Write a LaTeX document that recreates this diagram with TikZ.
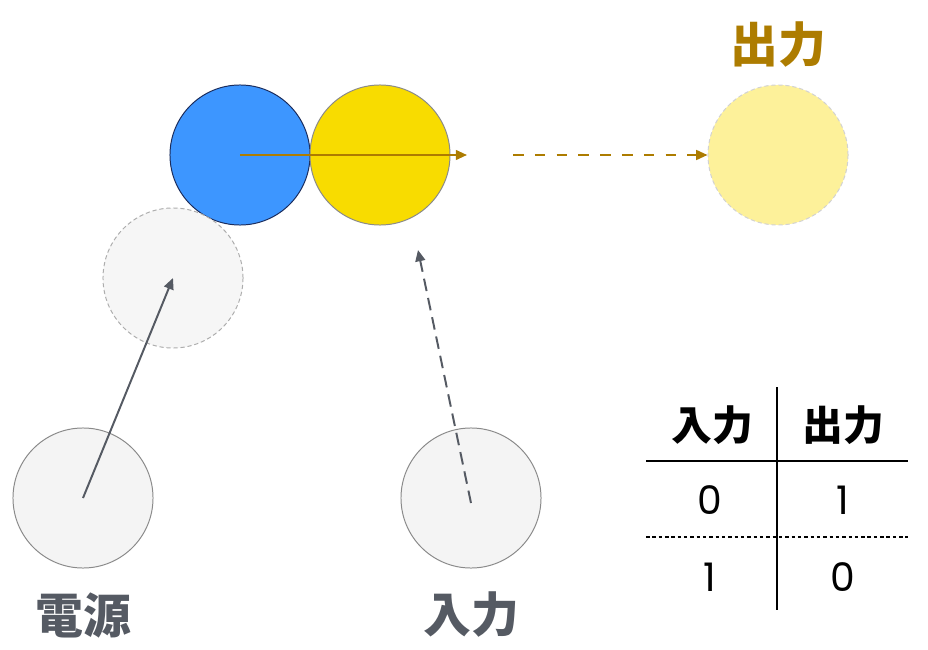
\documentclass[tikz,border=0pt]{standalone}
\usepackage{fontspec}
\newfontfamily\jp{Noto Sans CJK JP}
\newfontfamily\num{Poppins}
\usetikzlibrary{arrows.meta,positioning}
\definecolor{gateblue}{HTML}{3D96FF}
\definecolor{gatenavy}{HTML}{1B2C5C}
\definecolor{gateyellow}{HTML}{F8DC00}
\definecolor{gategold}{HTML}{AD7C00}
\definecolor{outyellow}{HTML}{FDF19A}
\definecolor{pinfill}{HTML}{F4F4F4}
\definecolor{pingray}{HTML}{8A8A8A}
\definecolor{labelgray}{HTML}{555A63}

\begin{document}
\begin{tikzpicture}[x=0.025cm,y=-0.025cm,
    ball/.style={circle,minimum size=3.5cm,inner sep=0pt,line width=0.7pt},
    pin/.style={ball,draw=pingray,fill=pinfill},
    ghost/.style={ball,draw=pingray!70,fill=pinfill!80!white,dashed,dash pattern=on 3pt off 2pt},
    gatelabel/.style={font=\jp\bfseries\fontsize{34}{34}\selectfont},
    cell/.style={font=\num\fontsize{28}{28}\selectfont},
    head/.style={font=\jp\bfseries\fontsize{29}{29}\selectfont},
    flow/.style={-{Triangle[length=8pt,width=7pt]},line width=1.4pt}]
  \useasboundingbox (0,0) rectangle (928,650);

  % Gate (blue + yellow)
  \node[ball,draw=gatenavy,fill=gateblue] (blue) at (240,155) {};
  \node[ball,draw=pingray,fill=gateyellow] (yellow) at (380,155) {};

  % Output
  \node[ghost,draw=gray!35,fill=outyellow] (out) at (778,155) {};
  \node[gatelabel,text=gategold] (outlabel) at (778,45) {出力};

  % Power side
  \node[ghost] (lift) at (173,278) {};
  \node[pin] (power) at (83,498) {};
  \node[gatelabel,text=labelgray] (powerlabel) at (83,615) {電源};

  % Input side
  \node[pin] (input) at (471,498) {};
  \node[gatelabel,text=labelgray] (inputlabel) at (471,615) {入力};

  \coordinate (flowend) at (467,155);
  \coordinate (flowstart) at (513,155);
  \coordinate (inputend) at (418,250);
  \coordinate (inputstart) at (471,503);

  % Arrows
  \draw[flow,gategold] (blue.center) -- (flowend);
  \draw[flow,gategold,line width=1.3pt,dash pattern=on 7.5pt off 8pt] (flowstart) -- (out.west);
  \draw[flow,labelgray] (power.center) -- (lift.center);
  \draw[flow,labelgray,dash pattern=on 9pt off 5pt] (inputstart) -- (inputend);

  % Truth table
  \node[head] (h1) at (712,425) {入力};
  \node[head] (h2) at (843,425) {出力};
  \node[cell] (a1) at (710,500) {0};
  \node[cell] (b1) at (843,500) {1};
  \node[cell] (a2) at (710,577) {1};
  \node[cell] (b2) at (843,577) {0};
  \coordinate (vtop) at (777,387);
  \coordinate (vbot) at (777,610);
  \coordinate (hl) at (646,461);
  \coordinate (hr) at (908,461);
  \coordinate (dl) at (646,537);
  \coordinate (dr) at (908,537);
  \draw[line width=1.1pt] (vtop) -- (vbot);
  \draw[line width=1.1pt] (hl) -- (hr);
  \draw[line width=1pt,dash pattern=on 2.5pt off 2pt] (dl) -- (dr);
\end{tikzpicture}
\end{document}
